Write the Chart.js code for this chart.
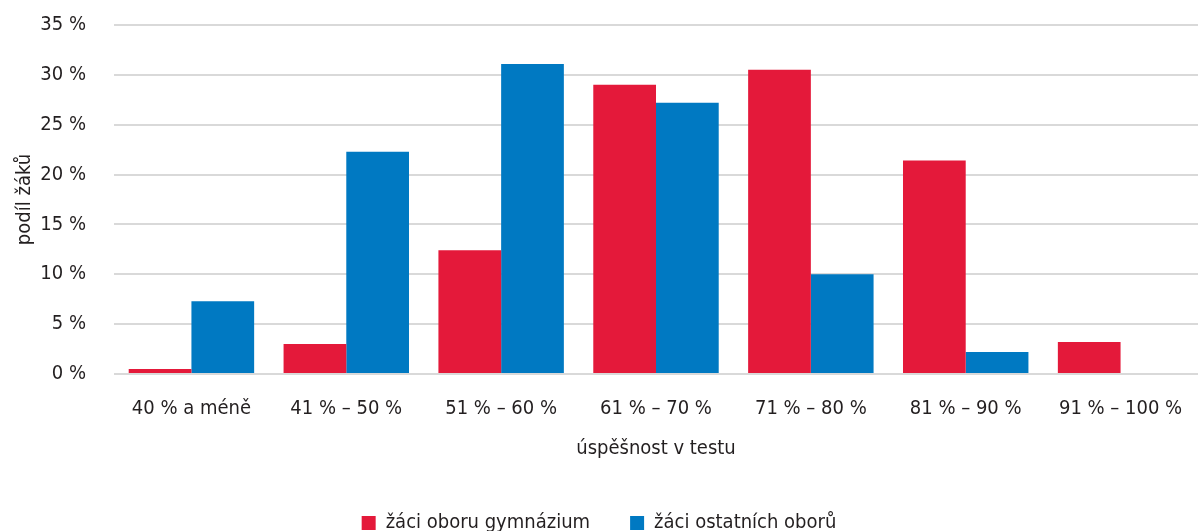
<!DOCTYPE html>
<html>
<head>
<meta charset="utf-8">
<script src="https://cdn.jsdelivr.net/npm/chart.js@4/dist/chart.umd.min.js"></script>
<style>
	html, body { margin: 0; padding: 0; background: #fff; overflow: hidden; }
	#wrap { position: relative; width: 1198px; height: 543px; }
</style>
</head>
<body>
<div id="wrap"><canvas id="chart"></canvas></div>
<script>
const categories = ["40 % a méně", "41 % – 50 %", "51 % – 60 %", "61 % – 70 %", "71 % – 80 %", "81 % – 90 %", "91 % – 100 %"];
const gymnazium = [0.5, 3.0, 12.4, 29.0, 30.5, 21.4, 3.2];
const ostatni = [7.3, 22.3, 31.1, 27.2, 10.0, 2.2, 0.1];
const seriesLabels = ["žáci oboru gymnázium", "žáci ostatních oborů"];

const FONT = "'Liberation Sans Narrow', 'DejaVu Sans Condensed', 'Roboto', sans-serif";
const TEXT = "#231f20";
const CLEAR = "rgba(0, 0, 0, 0)";

Chart.defaults.font.family = FONT;
Chart.defaults.color = TEXT;

new Chart(document.getElementById("chart"), {
	type: "bar",
	data: {
		labels: categories,
		datasets: [
			{
				label: seriesLabels[0],
				data: gymnazium,
				backgroundColor: "#e4193a",
				categoryPercentage: 0.81,
				barPercentage: 1.0,
			},
			{
				label: seriesLabels[1],
				data: ostatni,
				backgroundColor: "#0079c2",
				categoryPercentage: 0.81,
				barPercentage: 1.0,
				minBarLength: 1,
			},
		],
	},
	options: {
		responsive: true,
		maintainAspectRatio: false,
		animation: false,
		layout: { padding: { top: 25, right: 0, left: 0, bottom: 0 } },
		plugins: {
			legend: {
				position: "bottom",
				labels: {
					font: { size: 20 },
					boxWidth: 14,
					boxHeight: 14,
					padding: 40,
				},
			},
			tooltip: { enabled: false },
		},
		scales: {
			x: {
				// transparent tick marks keep the label gap without padding the sides
				grid: { display: false, drawTicks: true, tickLength: 23, tickColor: CLEAR },
				border: { display: false },
				ticks: { font: { size: 20 }, padding: 0 },
				title: {
					display: true,
					text: "úspěšnost v testu",
					font: { size: 20 },
					padding: { top: 16, bottom: 12 },
				},
			},
			y: {
				min: 0,
				max: 35,
				afterFit: (scale) => { scale.width = 114; },
				ticks: {
					stepSize: 5,
					font: { size: 20 },
					padding: 0,
					callback: (v) => v + "\u00a0%",
				},
				grid: { color: "#d9d9d9", lineWidth: 2, drawTicks: true, tickLength: 28, tickColor: CLEAR },
				border: { display: false },
				title: {
					display: true,
					text: "podíl žáků",
					font: { size: 20 },
					padding: { top: 13, bottom: 0 },
				},
			},
		},
	},
});
</script>
</body>
</html>
